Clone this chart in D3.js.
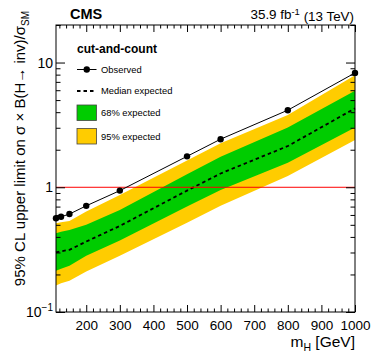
<!DOCTYPE html>
<html>
<head>
<meta charset="utf-8">
<script src="https://cdn.jsdelivr.net/npm/d3@7"></script>
<style>
  html, body { margin: 0; padding: 0; background: #fff; }
  svg { display: block; font-family: "Liberation Sans", Arial, Helvetica, sans-serif; }
</style>
</head>
<body>
<div id="chart"></div>
<script>
// ---- data ----
const masses    = [110, 125, 150, 200, 300, 500, 600, 800, 1000];
const observed  = [0.565, 0.58, 0.61, 0.71, 0.94, 1.77, 2.43, 4.15, 8.26];
const expMedian = [0.30, 0.307, 0.315, 0.367, 0.49, 0.94, 1.29, 2.14, 4.29];
const exp68Lo   = [0.214, 0.222, 0.235, 0.282, 0.374, 0.70, 0.95, 1.57, 3.02];
const exp68Hi   = [0.428, 0.44, 0.455, 0.50, 0.658, 1.27, 1.76, 3.02, 5.93];
const exp95Lo   = [0.163, 0.17, 0.178, 0.211, 0.282, 0.52, 0.71, 1.23, 2.39];
const exp95Hi   = [0.515, 0.525, 0.537, 0.638, 0.867, 1.64, 2.25, 3.79, 7.9];
const xTickValues = [200, 300, 400, 500, 600, 700, 800, 900, 1000];
const yMajorTicks = [0.1, 1, 10];
const smLine = 1;

const W = 374, H = 359;
const m = { left: 56, right: 355, top: 25, bottom: 312 };

const svg = d3.select("#chart").append("svg").attr("width", W).attr("height", H);

const x = d3.scaleLinear().domain([110, 1000]).range([m.left, m.right]);
const y = d3.scaleLog().domain([0.1, 20]).range([m.bottom, m.top]);

const rows = masses.map((mh, i) => ({
  mh, obs: observed[i], med: expMedian[i],
  lo68: exp68Lo[i], hi68: exp68Hi[i], lo95: exp95Lo[i], hi95: exp95Hi[i]
}));

const plot = svg.append("g");
// 95% band
plot.append("path").datum(rows)
  .attr("fill", "#ffcc00")
  .attr("d", d3.area().x(d => x(d.mh)).y0(d => y(d.lo95)).y1(d => y(d.hi95)));
// 68% band
plot.append("path").datum(rows)
  .attr("fill", "#00cc00")
  .attr("d", d3.area().x(d => x(d.mh)).y0(d => y(d.lo68)).y1(d => y(d.hi68)));
// median expected
plot.append("path").datum(rows)
  .attr("fill", "none").attr("stroke", "#000").attr("stroke-width", 1.8)
  .attr("stroke-dasharray", "3.5,3")
  .attr("d", d3.line().x(d => x(d.mh)).y(d => y(d.med)));
// SM line
plot.append("line")
  .attr("x1", m.left).attr("x2", m.right)
  .attr("y1", y(smLine)).attr("y2", y(smLine))
  .attr("stroke", "#ff0000").attr("stroke-width", 1);
// observed
plot.append("path").datum(rows)
  .attr("fill", "none").attr("stroke", "#000").attr("stroke-width", 1)
  .attr("d", d3.line().x(d => x(d.mh)).y(d => y(d.obs)));
plot.selectAll("circle.obs").data(rows).enter().append("circle")
  .attr("class", "obs")
  .attr("cx", d => x(d.mh)).attr("cy", d => y(d.obs)).attr("r", 3.2)
  .attr("fill", "#000");

// ---- axes (ROOT style: ticks inside on all four sides) ----
const xMinor = d3.range(120, 1001, 20).filter(v => v % 100 !== 0);
const yMinor = [];
[0.1, 1, 10].forEach(dec => { for (let k = 2; k <= 9; k++) { const v = dec * k; if (v <= 20) yMinor.push(v); } });
yMinor.push(20);

function tickAxis(axisFn, scale, vals, size, tx, ty) {
  const a = axisFn(scale).tickValues(vals).tickSize(size).tickFormat("");
  const g = svg.append("g").attr("transform", `translate(${tx},${ty})`).call(a);
  g.select(".domain").remove();
  g.selectAll(".tick line").attr("stroke", "#000").attr("stroke-width", 1);
  return g;
}
tickAxis(d3.axisTop, x, xTickValues, 7, 0, m.bottom);
tickAxis(d3.axisTop, x, xMinor, 3.5, 0, m.bottom);
tickAxis(d3.axisBottom, x, xTickValues, 7, 0, m.top);
tickAxis(d3.axisBottom, x, xMinor, 3.5, 0, m.top);
tickAxis(d3.axisRight, y, yMajorTicks, 9, m.left, 0);
tickAxis(d3.axisRight, y, yMinor, 4.5, m.left, 0);
tickAxis(d3.axisLeft, y, yMajorTicks, 9, m.right, 0);
tickAxis(d3.axisLeft, y, yMinor, 4.5, m.right, 0);

// frame
svg.append("rect")
  .attr("x", m.left).attr("y", m.top)
  .attr("width", m.right - m.left).attr("height", m.bottom - m.top)
  .attr("fill", "none").attr("stroke", "#000").attr("stroke-width", 1);

// x tick labels
const xLab = d3.axisBottom(x).tickValues(xTickValues).tickSize(0).tickPadding(0).tickFormat(d3.format("d"));
const gxl = svg.append("g").attr("transform", `translate(0,${m.bottom + 8})`).call(xLab);
gxl.select(".domain").remove();
gxl.selectAll("text").attr("font-size", 13.5).attr("fill", "#000")
  .attr("font-family", "Liberation Sans, Arial, sans-serif")
  .attr("dy", "0.71em");

// y tick labels
const yLab = svg.append("g");
yMajorTicks.forEach(v => {
  const t = yLab.append("text")
    .attr("x", 53).attr("y", y(v)).attr("dy", "0.36em")
    .attr("text-anchor", "end").attr("font-size", 14).attr("fill", "#000");
  if (v < 1) {
    t.append("tspan").text("10");
    t.append("tspan").attr("font-size", 10).attr("dy", "-0.6em").text("\u22121");
  } else {
    t.text(d3.format("d")(v));
  }
});

// axis titles
svg.append("text")
  .attr("x", m.right).attr("y", 347)
  .attr("text-anchor", "end").attr("font-size", 15.5).attr("fill", "#000")
  .call(t => {
    t.append("tspan").text("m");
    t.append("tspan").attr("font-size", 10.5).attr("dy", "0.35em").text("H");
    t.append("tspan").attr("dy", "-0.25em").text(" [GeV]");
  });

svg.append("text")
  .attr("transform", `translate(25,11) rotate(-90)`)
  .attr("text-anchor", "end").attr("font-size", 15).attr("fill", "#000")
  .call(t => {
    t.append("tspan").text("95% CL upper limit on \u03C3 \u00D7 B(H\u2192 inv)/\u03C3");
    t.append("tspan").attr("font-size", 10).attr("dy", "0.4em").text("SM");
  });

// header
svg.append("text").attr("x", 70).attr("y", 19)
  .attr("font-size", 14.5).attr("font-weight", "bold").attr("fill", "#000").text("CMS");
svg.append("text").attr("x", 354).attr("y", 19)
  .attr("text-anchor", "end").attr("font-size", 13.4).attr("fill", "#000")
  .call(t => {
    t.append("tspan").text("35.9 fb");
    t.append("tspan").attr("font-size", 9.5).attr("dy", "-0.45em").text("-1");
    t.append("tspan").attr("dy", "0.45em").text(" (13 TeV)");
  });

// legend
const leg = svg.append("g");
leg.append("text").attr("x", 77).attr("y", 53.3)
  .attr("font-size", 12).attr("font-weight", "bold").attr("fill", "#000").text("cut-and-count");
const lx0 = 77, lx1 = 96.5, tx = 101;
leg.append("line").attr("x1", lx0).attr("x2", lx1).attr("y1", 69.5).attr("y2", 69.5)
  .attr("stroke", "#000").attr("stroke-width", 1);
leg.append("circle").attr("cx", (lx0 + lx1) / 2).attr("cy", 69.5).attr("r", 3.2).attr("fill", "#000");
leg.append("text").attr("x", tx).attr("y", 69.5).attr("dy", "0.36em")
  .attr("font-size", 9.4).attr("fill", "#000").text("Observed");
leg.append("line").attr("x1", lx0).attr("x2", lx1).attr("y1", 91).attr("y2", 91)
  .attr("stroke", "#000").attr("stroke-width", 1.8).attr("stroke-dasharray", "3.5,3");
leg.append("text").attr("x", tx).attr("y", 91).attr("dy", "0.36em")
  .attr("font-size", 9.4).attr("fill", "#000").text("Median expected");
leg.append("rect").attr("x", lx0).attr("y", 105).attr("width", lx1 - lx0).attr("height", 15.5)
  .attr("fill", "#00cc00").attr("stroke", "#444").attr("stroke-width", 0.8);
leg.append("text").attr("x", tx).attr("y", 112.8).attr("dy", "0.36em")
  .attr("font-size", 9.4).attr("fill", "#000").text("68% expected");
leg.append("rect").attr("x", lx0).attr("y", 128.5).attr("width", lx1 - lx0).attr("height", 15.5)
  .attr("fill", "#ffcc00").attr("stroke", "#444").attr("stroke-width", 0.8);
leg.append("text").attr("x", tx).attr("y", 136.3).attr("dy", "0.36em")
  .attr("font-size", 9.4).attr("fill", "#000").text("95% expected");
</script>
</body>
</html>
